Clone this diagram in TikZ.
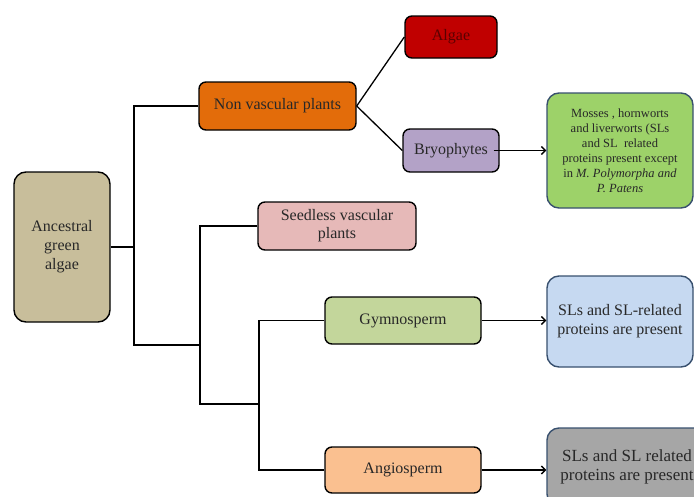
\documentclass[tikz,border=0pt]{standalone}
\usepackage{fontspec}
\setmainfont{Liberation Serif}
\usepackage{tikz}
\usetikzlibrary{calc}
\usetikzlibrary{arrows.meta}

\definecolor{ancfill}{RGB}{200,190,155}
\definecolor{nonvfill}{RGB}{227,108,10}
\definecolor{algaefill}{RGB}{192,0,0}
\definecolor{algaetext}{RGB}{90,0,0}
\definecolor{bryofill}{RGB}{179,162,199}
\definecolor{seedfill}{RGB}{230,185,184}
\definecolor{gymfill}{RGB}{195,214,155}
\definecolor{angfill}{RGB}{250,192,144}
\definecolor{mossfill}{RGB}{157,210,105}
\definecolor{slfill}{RGB}{198,217,241}
\definecolor{grayfill}{RGB}{166,166,166}
\definecolor{notedge}{RGB}{56,80,110}
\definecolor{inktext}{RGB}{40,40,40}

\begin{document}
\begin{tikzpicture}[x=1pt, y=-1pt,
    taxon/.style={draw=black, line width=1.4pt, rounded corners=7pt, align=center,
        inner sep=2pt, text=inktext, font=\fontsize{16}{18}\selectfont},
    note/.style={draw=notedge, line width=1.4pt, rounded corners=12pt, align=center,
        inner sep=2pt, minimum width=146pt, text=inktext, font=\fontsize{16}{19}\selectfont},
    link/.style={line width=1.3pt},
    tip/.style={-{Straight Barb[length=4pt,width=8pt]}}]
    \useasboundingbox (0,0) rectangle (694,496);
    \clip (0,0) rectangle (694,496);
    % boxes of the tree
    \node[taxon, fill=ancfill, rounded corners=12pt, minimum width=96pt, minimum height=150pt,
        font=\fontsize{16}{19}\selectfont] (anc) at (62,247) {Ancestral\\ green\\ algae};
    \node[taxon, fill=nonvfill, minimum width=157pt, minimum height=48pt] (nonv) at (277.5,106) {Non vascular plants};
    \node[taxon, fill=algaefill, text=algaetext, minimum width=92pt, minimum height=42pt] (algae) at (451,37) {Algae};
    \node[taxon, fill=bryofill, minimum width=96pt, minimum height=43pt] (bryo) at (451,150.5) {Bryophytes};
    \node[taxon, fill=seedfill, minimum width=158pt, minimum height=48pt] (seed) at (337,226) {Seedless vascular\\ plants};
    \node[taxon, fill=gymfill, minimum width=156pt, minimum height=47pt] (gym) at (403,320.5) {Gymnosperm};
    \node[taxon, fill=angfill, minimum width=156pt, minimum height=46pt] (ang) at (403,470) {Angiosperm};
    % notes on the right
    \node[note, fill=mossfill, minimum height=115pt, font=\fontsize{12.5}{15}\selectfont] (moss) at (620,150.5)
        {Mosses , hornworts\\ and liverworts (SLs\\ and SL\ \ related\\ proteins present except\\ in \textit{M. Polymorpha and}\\ \textit{P. Patens}};
    \node[note, fill=slfill, minimum height=91pt] (slA) at (620,321.5) {SLs and SL-related\\ proteins are present};
    \node[note, fill=grayfill, minimum width=160pt, minimum height=78pt,
        font=\fontsize{17}{19}\selectfont] (slB) at (627,467) {SLs and SL related\\ proteins are present};
    % splits
    \coordinate (splitA) at (134,345);
    \coordinate (splitB) at (200,404);
    \coordinate (splitC) at (259,404);
    \draw[link] (anc.east) -- (anc.east -| splitA);
    \draw[link] (nonv.west) -| (splitA) -| (splitB);
    \draw[link] (seed.west) -| (splitB) -- (splitC);
    \draw[link] (gym.west) -| (splitC) |- (ang.west);
    \draw[link] (nonv.east) -- (algae.west);
    \draw[link] (nonv.east) -- (bryo.west);
    % arrows
    \draw[link, tip] ([xshift=-6pt]bryo.east) -- (bryo.east -| moss.west);
    \draw[link, tip] (gym.east) -- (gym.east -| slA.west);
    \draw[link, tip] (ang.east) -- (ang.east -| slB.west);
\end{tikzpicture}
\end{document}
